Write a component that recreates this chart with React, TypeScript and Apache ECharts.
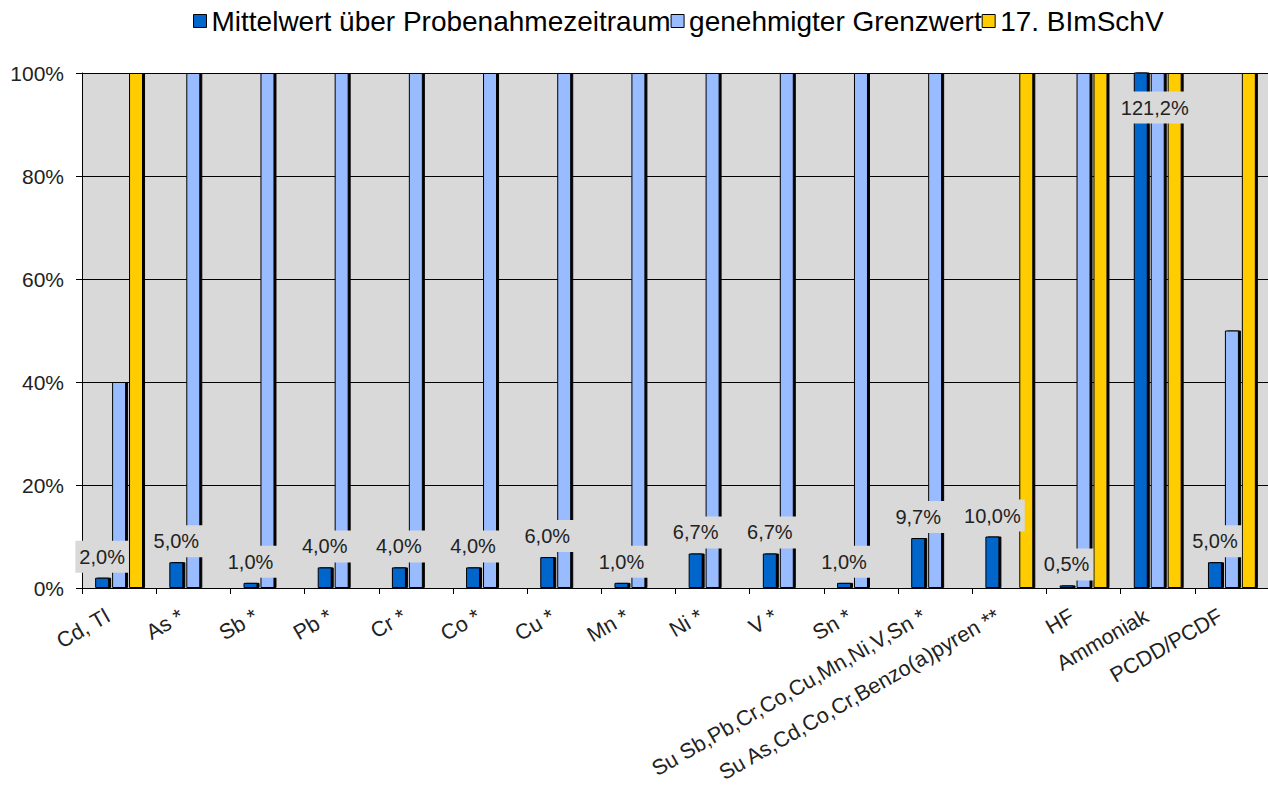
import React, { useEffect, useRef } from "react";
import * as echarts from "echarts";

const categories = [
  "Cd, Tl",
  "As *",
  "Sb *",
  "Pb *",
  "Cr *",
  "Co *",
  "Cu *",
  "Mn *",
  "Ni *",
  "V *",
  "Sn *",
  "Su Sb,Pb,Cr,Co,Cu,Mn,Ni,V,Sn *",
  "Su As,Cd,Co,Cr,Benzo(a)pyren **",
  "HF",
  "Ammoniak",
  "PCDD/PCDF",
];
const seriesNames = ["Mittelwert über Probenahmezeitraum", "genehmigter Grenzwert", "17. BImSchV"];
const mittelwert = [2.0, 5.0, 1.0, 4.0, 4.0, 4.0, 6.0, 1.0, 6.7, 6.7, 1.0, 9.7, 10.0, 0.5, 121.2, 5.0];
const grenzwert = [40, 100, 100, 100, 100, 100, 100, 100, 100, 100, 100, 100, null, 100, 100, 50];
const bimschv = [100, null, null, null, null, null, null, null, null, null, null, null, 100, 100, 100, 100];
const yMin = 0;
const yMax = 100;
const yInterval = 20;

const FONT = "'Liberation Sans', Arial, sans-serif";
const colors = ["#0066cc", "#99bbff", "#ffcc00"];

export default function App() {
  const ref = useRef<HTMLDivElement>(null);
  useEffect(() => {
    if (!ref.current) return;
    const chart = echarts.init(ref.current, null, { renderer: "svg" });
    const itemStyleFor = (c: string) => ({
      color: c,
      borderColor: "#000",
      borderWidth: 1,
      shadowColor: "#000",
      shadowOffsetX: 2,
      shadowOffsetY: 0,
      shadowBlur: 0,
    });
    const fmt = (v: number) => v.toFixed(1).replace(".", ",") + "%";
    const mwData = mittelwert.map((v) => {
      if (v > yMax) {
        return {
          value: v,
          label: { position: "insideTop", distance: 19, offset: [14, 0] },
        };
      }
      return v;
    });
    chart.setOption({
      animation: false,
      textStyle: { fontFamily: FONT },
      legend: {
        top: 2,
        left: 188,
        itemGap: 0,
        itemWidth: 13,
        itemHeight: 13,
        icon: "rect",
        textStyle: { fontSize: 28, color: "#000", fontFamily: FONT },
        data: seriesNames.map((n) => ({ name: n, itemStyle: { borderColor: "#000", borderWidth: 1 } })),
      },
      grid: {
        left: 82,
        top: 73,
        width: 1187,
        height: 515,
        show: true,
        backgroundColor: "#d9d9d9",
        borderWidth: 0,
        containLabel: false,
        outerBoundsMode: "none",
      },
      xAxis: {
        type: "category",
        data: categories,
        axisLine: { lineStyle: { color: "#000", width: 1 } },
        axisTick: { show: true, length: 6, lineStyle: { color: "#000" } },
        axisLabel: {
          interval: 0,
          rotate: 30,
          fontSize: 21.5,
          color: "#222",
          margin: 20,
          padding: [0, 13, 0, 0],
          fontFamily: FONT,
        },
      },
      yAxis: {
        type: "value",
        min: yMin,
        max: yMax,
        interval: yInterval,
        axisLine: { show: true, lineStyle: { color: "#000", width: 1 } },
        axisTick: { show: true, length: 6, lineStyle: { color: "#000" } },
        axisLabel: { formatter: "{value}%", fontSize: 21, color: "#222", margin: 18, fontFamily: FONT },
        splitLine: { show: true, lineStyle: { color: "#000", width: 1 } },
      },
      series: [
        {
          name: seriesNames[0],
          type: "bar",
          data: mwData,
          barWidth: 14,
          barGap: "21%",
          clip: true,
          itemStyle: itemStyleFor(colors[0]),
          label: {
            show: true,
            position: "top",
            distance: 5,
            formatter: (p: any) => fmt(p.value),
            fontSize: 20,
            color: "#222",
            fontFamily: FONT,
            backgroundColor: "#d9d9d9",
            padding: [6, 4],
          },
          z: 3,
        },
        {
          name: seriesNames[1],
          type: "bar",
          data: grenzwert,
          barWidth: 14,
          barGap: "21%",
          clip: true,
          itemStyle: itemStyleFor(colors[1]),
          z: 2,
        },
        {
          name: seriesNames[2],
          type: "bar",
          data: bimschv,
          barWidth: 14,
          barGap: "21%",
          clip: true,
          itemStyle: itemStyleFor(colors[2]),
          z: 2,
        },
      ],
    });
    return () => chart.dispose();
  }, []);
  return (
    <div
      ref={ref}
      style={{ position: "absolute", left: 0, top: 0, width: 1268, height: 791, background: "#fff" }}
    />
  );
}
